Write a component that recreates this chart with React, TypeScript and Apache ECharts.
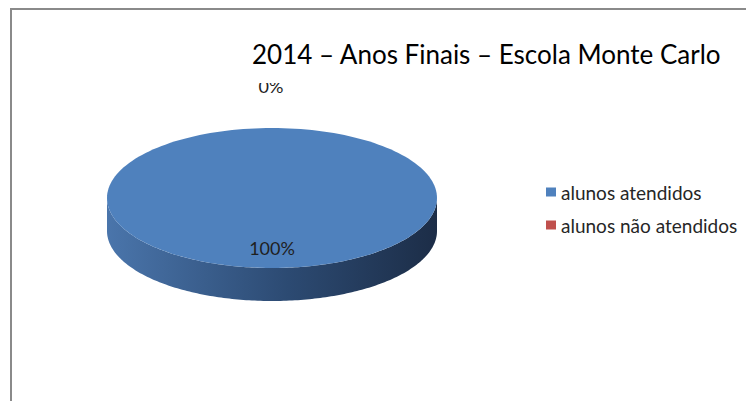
import React, { useEffect, useRef } from "react";
import * as echarts from "echarts";

const titleText = "2014 – Anos Finais – Escola Monte Carlo";
const categories = ["alunos atendidos", "alunos não atendidos"];
const values = [100, 0];
const sliceColors = ["#4F81BD", "#C0504D"];

const FONT = "Lato, 'Open Sans', sans-serif";

export default function App() {
  const ref = useRef<HTMLDivElement>(null);
  useEffect(() => {
    if (!ref.current) return;
    const chart = echarts.init(ref.current, undefined, { renderer: "svg" });
    const total = values.reduce((a, b) => a + b, 0);
    const starts: number[] = [];
    let acc = 0;
    values.forEach((v) => {
      starts.push(acc);
      acc += v;
    });

    // 3D pie geometry
    const cx = 272, cy = 198, rx = 165, ry = 70, depth = 33;
    const pt = (t: number, dy = 0) => [cx + rx * Math.sin(t), cy - ry * Math.cos(t) + dy];

    const renderItem = (params: any, api: any) => {
      const v = api.value(0);
      const s = api.value(1);
      const a0 = (s / total) * Math.PI * 2;
      const a1 = ((s + v) / total) * Math.PI * 2;
      const color = api.visual("color");
      const children: any[] = [];
      const N = 180;
      if (v > 0) {
        // side (front visible part: angles between PI/2 and 3PI/2)
        const f0 = Math.max(a0, Math.PI / 2);
        const f1 = Math.min(a1, (3 * Math.PI) / 2);
        if (f1 > f0) {
          const pts: number[][] = [];
          for (let i = 0; i <= N; i++) pts.push(pt(f0 + ((f1 - f0) * i) / N));
          for (let i = N; i >= 0; i--) pts.push(pt(f0 + ((f1 - f0) * i) / N, depth));
          children.push({
            type: "polygon",
            shape: { points: pts },
            style: {
              fill: new echarts.graphic.LinearGradient(1, 0, 0, 0, [
                { offset: 0, color: "#1c2d47" },
                { offset: 0.45, color: "#2c4a72" },
                { offset: 1, color: "#4a75ab" },
              ]),
            },
          });
        }
        // top face
        const full = a1 - a0 >= Math.PI * 2 - 1e-9;
        const tp: number[][] = [];
        if (!full) tp.push([cx, cy]);
        for (let i = 0; i <= N; i++) tp.push(pt(a0 + ((a1 - a0) * i) / N));
        children.push({
          type: "polygon",
          shape: { points: tp },
          style: { fill: color },
        });
      }
      // label
      const pct = Math.round((v / total) * 100) + "%";
      const mid = (a0 + a1) / 2;
      let lx: number, ly: number;
      if (v > 0) {
        lx = cx + rx * 0.72 * Math.sin(mid);
        ly = cy - ry * 0.72 * Math.cos(mid);
      } else {
        lx = cx + (rx + 42) * Math.sin(mid) - 1;
        ly = cy - (ry + 42) * Math.cos(mid);
      }
      children.push({
        type: "text",
        x: lx,
        y: ly,
        style: {
          text: pct,
          fill: "#1f1f1f",
          fontSize: 18,
          fontFamily: FONT,
          align: "center",
          verticalAlign: "middle",
        },
      });
      return { type: "group", silent: true, children };
    };

    chart.setOption({
      animation: false,
      backgroundColor: "#ffffff",
      title: {
        text: titleText,
        left: 247,
        top: 38,
        padding: [0, 5, 13, 5],
        backgroundColor: "#ffffff",
        z: 10,
        textStyle: {
          fontFamily: FONT,
          fontSize: 26,
          fontWeight: "normal",
          color: "#000000",
          lineHeight: 32,
        },
      },
      legend: {
        orient: "vertical",
        left: 541,
        top: 176,
        icon: "rect",
        itemWidth: 10,
        itemHeight: 9,
        itemGap: 11,
        itemTextGap: 6,
        selectedMode: false,
        data: categories,
        textStyle: {
          fontFamily: FONT,
          fontSize: 19,
          color: "#262626",
          lineHeight: 22,
        },
      },
      graphic: [
        {
          type: "line",
          shape: { x1: 11, y1: 9, x2: 746, y2: 9 },
          style: { stroke: "#8a8a8a", lineWidth: 2 },
        },
        {
          type: "line",
          shape: { x1: 11, y1: 8, x2: 11, y2: 401 },
          style: { stroke: "#8a8a8a", lineWidth: 2 },
        },
      ],
      series: categories.map((name, i) => ({
        type: "custom",
        name,
        coordinateSystem: "none",
        itemStyle: { color: sliceColors[i] },
        data: [[values[i], starts[i]]],
        renderItem,
        z: 2,
      })),
    });
    return () => chart.dispose();
  }, []);
  return (
    <div
      ref={ref}
      style={{ position: "absolute", left: 0, top: 0, width: 746, height: 401 }}
    />
  );
}
